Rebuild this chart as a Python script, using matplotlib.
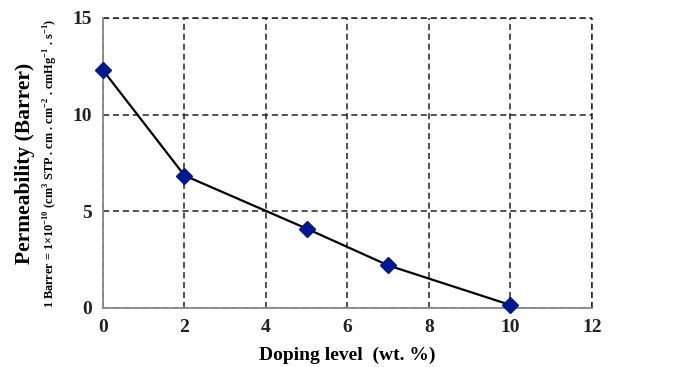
import numpy as np
import matplotlib.pyplot as plt

doping = [0, 2, 5, 7, 10]
permeability = [12.3, 6.85, 4.1, 2.2, 0.15]
xticks = [0, 2, 4, 6, 8, 10, 12]
yticks = [0, 5, 10, 15]

plt.rcParams['font.family'] = ['Liberation Serif', 'DejaVu Serif']
plt.rcParams['mathtext.fontset'] = 'custom'
plt.rcParams['mathtext.rm'] = 'Liberation Serif:bold'
plt.rcParams['mathtext.bf'] = 'Liberation Serif:bold'

fig = plt.figure(figsize=(6.82, 3.67), dpi=100)
ax = fig.add_axes([0.151, 0.161, 0.717, 0.79])

ax.plot(doping, permeability, color='black', linewidth=1.6, marker='D',
        markersize=8, markerfacecolor='#00188f', markeredgecolor='#00188f',
        zorder=3, clip_on=False)

ax.set_xlim(0, 12)
ax.set_ylim(0, 15)
ax.set_xticks(xticks)
ax.set_yticks(yticks)
ax.tick_params(length=0, labelsize=14, pad=8)
for lbl in ax.get_xticklabels() + ax.get_yticklabels():
    lbl.set_fontweight('bold')
    lbl.set_color('#222222')

ax.grid(True, color='#222222', linestyle=(0, (4, 2.5)), linewidth=1.1)
for side in ['top', 'right']:
    ax.spines[side].set_visible(False)
for side in ['left', 'bottom']:
    ax.spines[side].set_color('#888888')
    ax.spines[side].set_linewidth(1.3)
    ax.spines[side].set_zorder(2.5)
# dashed frame on the top and right, like the grid
ax.axhline(15, color='#222222', linestyle=(0, (4, 2.5)), linewidth=1.1, clip_on=False)
ax.axvline(12, color='#222222', linestyle=(0, (4, 2.5)), linewidth=1.1, clip_on=False)

ax.set_xlabel('Doping level  (wt. %)', fontsize=14, fontweight='bold', labelpad=8)

fig.text(0.037, 0.556, 'Permeability (Barrer)', rotation=90, fontsize=15.5,
         fontweight='bold', ha='center', va='center')
fig.text(0.074, 0.556,
         r'1 Barrer = 1$\times$10$^{-10}$ (cm$^3$ STP . cm . cm$^{-2}$ . cmHg$^{-1}$ . s$^{-1}$)',
         rotation=90, fontsize=8.8, fontweight='bold', ha='center', va='center')

fig.savefig('out.png', dpi=100)
